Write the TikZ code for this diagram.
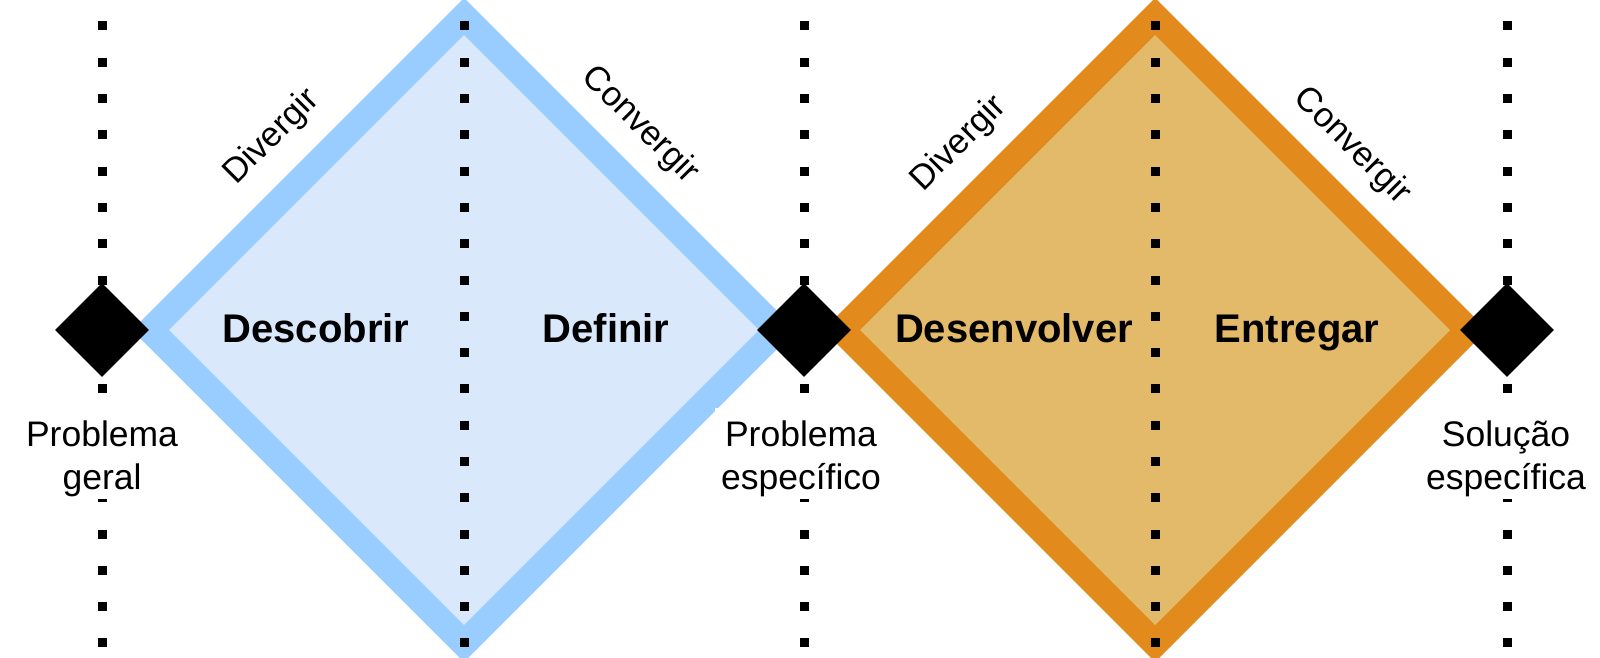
\documentclass[tikz,border=0pt]{standalone}
\usepackage{fontspec}
\setmainfont{Liberation Sans}
\usetikzlibrary{shapes.geometric}
\definecolor{bluefill}{HTML}{DAE8FC}
\definecolor{bluestroke}{HTML}{99CCFF}
\definecolor{orfill}{RGB}{227,186,106}
\definecolor{orstroke}{RGB}{226,139,28}
\begin{document}
\begin{tikzpicture}[x=1pt,y=-1pt,
  phase/.style={shape=diamond, minimum width=638pt, minimum height=638pt, inner sep=0pt, line width=26pt},
  milestone/.style={shape=diamond, fill=black, minimum width=94pt, minimum height=94pt, inner sep=0pt},
  dotline/.style={line width=9pt, dash pattern=on 9pt off 27.29pt},
  stagetext/.style={font=\fontsize{40}{46}\selectfont\bfseries, anchor=base},
  edgetext/.style={font=\fontsize{34.5}{40}\selectfont},
  outcome/.style={font=\fontsize{35.5}{43}\selectfont, align=center, fill=white, inner xsep=6pt, inner ysep=0pt}
]
\useasboundingbox (0,0) rectangle (1600,658);
\fill[white] (0,0) rectangle (1600,658);

% phases
\node[phase, draw=bluestroke, fill=bluefill] (blue) at (464,330) {};
\node[phase, draw=orstroke, fill=orfill] (orange) at (1155,330) {};

% dotted lines
\foreach \i/\x in {1/102,2/464,3/804,4/1155,5/1507}{
  \coordinate (t\i) at (\x,21.5);
  \coordinate (b\i) at (\x,648);
  \draw[dotline] (t\i) -- (b\i);
}

% milestones
\node[milestone] (m1) at (102,330) {};
\node[milestone] (m2) at (804,330) {};
\node[milestone] (m3) at (1507,330) {};

% stage names
\node[stagetext] (s1) at (316,342) {Descobrir};
\node[stagetext] (s2) at (606,342) {Definir};
\node[stagetext] (s3) at (1014,342) {Desenvolver};
\node[stagetext] (s4) at (1297,342) {Entregar};

% edge labels
\node[edgetext, rotate=45] (d1) at (272,137) {Divergir};
\node[edgetext, rotate=-45] (c1) at (640,125) {Convergir};
\node[edgetext, rotate=45] (d2) at (959,144) {Divergir};
\node[edgetext, rotate=-45] (c2) at (1352,146) {Convergir};

% outcomes
\node[outcome] (o1) at (102,453.5) {\rule{0pt}{38pt}Problema\\geral\rule[-10pt]{0pt}{10pt}};
\node[outcome] (o2) at (801,453.5) {\rule{0pt}{38pt}Problema\\específico\rule[-10pt]{0pt}{10pt}};
\node[outcome] (o3) at (1506,453.5) {\rule{0pt}{38pt}Solução\\específica\rule[-10pt]{0pt}{10pt}};
\end{tikzpicture}
\end{document}
